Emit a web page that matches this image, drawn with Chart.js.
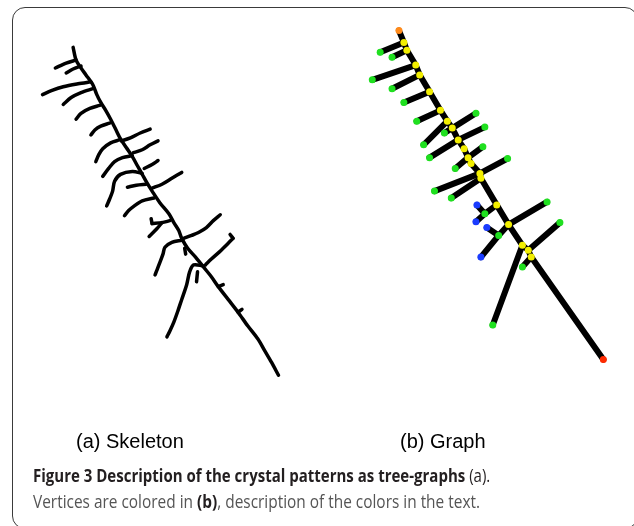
<!DOCTYPE html>
<html>
<head>
<meta charset="utf-8">
<script src="https://cdn.jsdelivr.net/npm/chart.js@4.4.0/dist/chart.umd.min.js"></script>
<style>
  html, body { margin: 0; padding: 0; background: #fff; overflow: hidden; }
  #wrap { position: relative; width: 634px; height: 526px; overflow: hidden; }
  #frame { position: absolute; left: 12px; top: 7px; width: 624px; height: 520px;
           border: 1.5px solid #3a3a3a; border-radius: 13px; }
  canvas { position: absolute; left: 0; top: 0; }
  .lbl { position: absolute; font-family: "Liberation Sans", Arial, sans-serif; font-size: 20px; color: #000; white-space: nowrap; }
  .cap { position: absolute; left: 33px; font-family: "Open Sans", sans-serif; font-size: 18px; white-space: nowrap;
         transform-origin: 0 0; }
</style>
</head>
<body>
<div id="wrap">
  <div id="frame"></div>
  <canvas id="canvas" width="634" height="526"></canvas>
  <div class="lbl" style="left:76px; top:430px;">(a) Skeleton</div>
  <div class="lbl" style="left:400px; top:430px;">(b) Graph</div>
  <div class="cap" id="cap1" style="top:463px; color:#231f20;"><b>Figure 3 Description of the crystal patterns as tree-graphs</b> (a).</div>
  <div class="cap" id="cap2" style="top:489px; color:#555;">Vertices are colored in <b style="color:#231f20">(b)</b>, description of the colors in the text.</div>
</div>
<script>
// skeleton (a): traced polylines
const skeleton = [
  [[70,44],[73,57],[78,65],[83,72],[90,82],[94,92],[98,100],[103,108],[108,117],[113,127],[118,137],[124,146],[130,155],[135,164],[140,173],[145,182],[150,190],[158,202],[167,213],[172,222],[177,230],[180,238],[186,248],[194,257],[202,267],[210,277],[217,287],[227,300],[237,313],[247,327],[257,340],[264,352],[271,364],[278,377]],
  [[73,57],[63,60],[52,65]],
  [[78,63],[70,66],[63,70]],
  [[88,79],[75,81],[60,84],[48,88],[39,92]],
  [[90,86],[78,90],[68,95],[60,102]],
  [[97,103],[87,106],[78,111],[73,117]],
  [[107,121],[98,124],[92,128],[88,133]],
  [[117,138],[108,141],[100,147],[96,153],[93,160]],
  [[119,139],[128,136],[138,131],[148,127]],
  [[130,154],[120,156],[112,160],[106,167],[100,175]],
  [[131,151],[140,148],[148,143],[156,139]],
  [[140,172],[130,170],[118,173],[112,180],[110,190],[107,198],[104,205]],
  [[142,167],[150,163],[156,159]],
  [[144,183],[134,184],[125,186]],
  [[150,187],[160,183],[170,177],[180,171]],
  [[152,197],[140,200],[132,205],[126,210],[122,215]],
  [[168,220],[160,222],[150,223]],
  [[160,222],[155,228],[147,236]],
  [[182,238],[190,235],[197,232],[205,227],[212,220],[219,214]],
  [[180,240],[170,242],[163,247],[161,254],[158,262],[155,270],[153,275]],
  [[202,266],[192,265],[188,272],[185,285],[180,300],[176,312],[172,323],[168,332],[165,338]],
  [[204,265],[210,259],[220,250],[230,240],[232,238]],
  [[183,248],[184,254]],
  [[196,272],[195,282]],
  [[217,287],[222,285]],
  [[237,313],[241,310]],
  [[150,223],[149,218]],
  [[232,238],[229,234]]
];

// graph (b): vertices and edges
const vx = [400,405,408,417,421,431,442,449,454,460,466,470,473,482,483,499,511,525,531,534,607,
            381,393,373,393,405,418,425,478,446,487,431,485,457,510,436,453,487,479,478,550,501,489,483,495,563,525];
const vy = [27,39,47,62,72,89,108,119,126,138,147,156,162,172,177,204,224,245,250,257,361,
            49,54,77,86,100,119,143,111,131,125,156,145,167,157,190,197,213,204,221,201,235,227,257,326,222,267];
const vtype = ['O','Y','Y','Y','Y','Y','Y','Y','Y','Y','Y','Y','Y','Y','Y','Y','Y','Y','Y','Y','R',
               'G','G','G','G','G','G','G','G','G','G','G','G','G','G','G','G','G','B','B','G','G','B','B','G','G','G'];
const edgeFrom = [0,1,2,3,4,5,6,7,8,9,10,11,12,13,14,15,16,17,18,19,
                  1,2,3,4,5,6,7,8,8,9,9,11,11,13,13,14,15,37,37,16,16,41,41,17,18,19];
const edgeTo   = [1,2,3,4,5,6,7,8,9,10,11,12,13,14,15,16,17,18,19,20,
                  21,22,23,24,25,26,27,28,29,30,31,32,33,34,35,36,37,38,39,40,41,42,43,44,45,46];
const vertexColors = { Y: '#f2ee00', G: '#1fe01f', B: '#1a3cff', O: '#ff8a1a', R: '#ff2a00' };

const datasets = [];
skeleton.forEach(function (line) {
  datasets.push({
    data: line.map(function (p) { return { x: p[0], y: p[1] }; }),
    showLine: true, borderColor: '#000', borderWidth: 3.5, pointRadius: 0,
    borderCapStyle: 'round', borderJoinStyle: 'round', tension: 0.3, order: 2
  });
});
for (let i = 0; i < edgeFrom.length; i++) {
  const a = edgeFrom[i], b = edgeTo[i];
  datasets.push({
    data: [{ x: vx[a], y: vy[a] }, { x: vx[b], y: vy[b] }],
    showLine: true, borderColor: '#000', borderWidth: 6, pointRadius: 0,
    borderCapStyle: 'round', order: 1
  });
}
datasets.push({
  data: vx.map(function (x, i) { return { x: x, y: vy[i] }; }),
  showLine: false, pointRadius: 3.5, borderWidth: 0,
  pointBackgroundColor: vtype.map(function (t) { return vertexColors[t]; }),
  order: 0
});

new Chart(document.getElementById('canvas'), {
  type: 'scatter',
  data: { datasets: datasets },
  options: {
    responsive: false,
    animation: false,
    layout: { padding: 0 },
    plugins: { legend: { display: false }, tooltip: { enabled: false } },
    scales: {
      x: { type: 'linear', min: 0, max: 634, display: false },
      y: { type: 'linear', min: 0, max: 526, reverse: true, display: false }
    }
  }
});

// squeeze caption lines to the reference widths
function fit(id, w) {
  const el = document.getElementById(id);
  el.style.transform = 'scaleX(' + (w / el.offsetWidth) + ')';
}
fit('cap1', 457);
fit('cap2', 447);
</script>
</body>
</html>
